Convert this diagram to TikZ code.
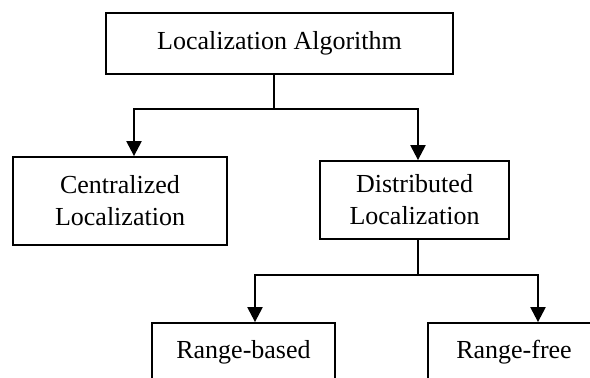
\documentclass[tikz,border=0pt]{standalone}
\usepackage{fontspec}
\setmainfont{Liberation Serif}
\usetikzlibrary{arrows.meta}
\begin{document}
\begin{tikzpicture}[x=1pt,y=-1pt,
  box/.style={draw, line width=1.8pt, rectangle, align=center, inner sep=0pt,
    font=\fontsize{26}{32}\selectfont},
  thin/.style={line width=1.4pt},
  arr/.style={line width=2.3pt, -{Triangle[width=15pt,length=15pt]}},
  hline/.style={line width=1.8pt, line cap=rect}]
\useasboundingbox (0,0) rectangle (590,378);
\node[box, minimum width=347pt, minimum height=61pt] (top) at (279.5,43.5) {Localization Algorithm};
\node[box, minimum width=214pt, minimum height=88pt] (cent) at (120,201) {Centralized\\Localization};
\node[box, minimum width=189pt, minimum height=78pt] (dist) at (414.5,200) {Distributed\\Localization};
\node[box, minimum width=183pt, minimum height=58pt] (rb) at (243.5,352) {Range-based};
\node[box, minimum width=172pt, minimum height=58pt] (rf) at (514,352) {Range-free};
\coordinate (j1) at (274,109);
\coordinate (a1) at (134,109);
\coordinate (a2) at (418,109);
\coordinate (j2) at (418,275);
\coordinate (b1) at (255,275);
\coordinate (b2) at (538,275);
\draw[thin] (j1 |- top.south) -- (j1);
\draw[hline] (a1) -- (a2);
\draw[arr] (a1) -- (a1 |- cent.north);
\draw[arr] (a2) -- (a2 |- dist.north);
\draw[thin] (j2 |- dist.south) -- (j2);
\draw[hline] (b1) -- (b2);
\draw[arr] (b1) -- (b1 |- rb.north);
\draw[arr] (b2) -- (b2 |- rf.north);
\end{tikzpicture}
\end{document}
